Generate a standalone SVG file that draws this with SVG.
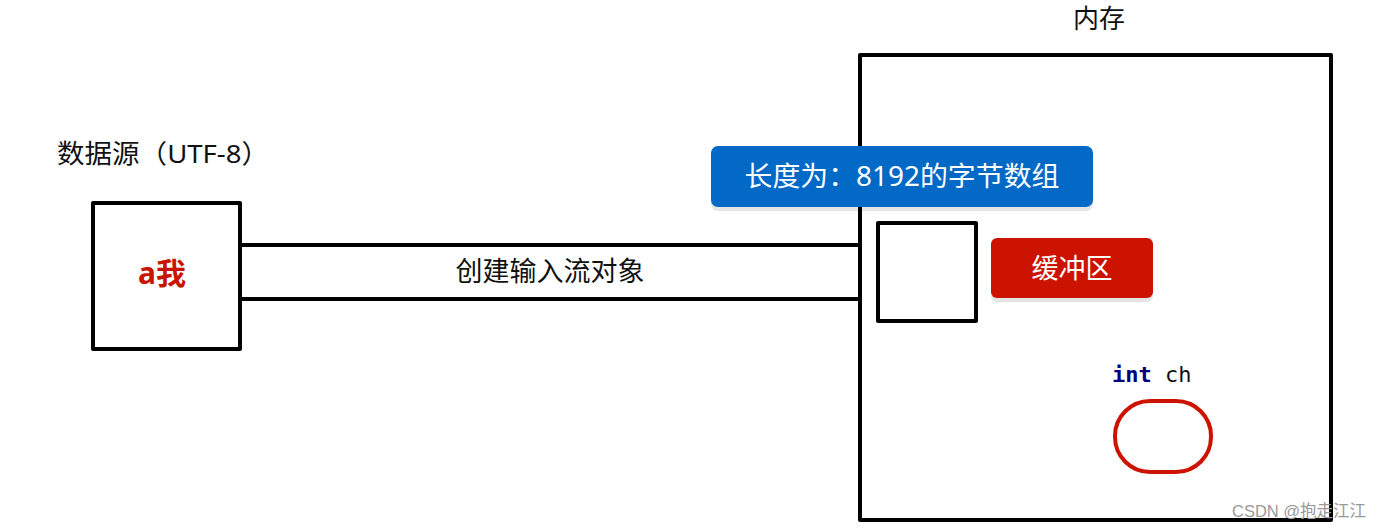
<svg xmlns="http://www.w3.org/2000/svg" width="1383" height="529" viewBox="0 0 1383 529">
<defs>
<style>
.box{fill:#fff;stroke:#000;stroke-width:4;stroke-linejoin:round}
.t{font-family:"Noto Sans","Noto Sans CJK SC",sans-serif;fill:#111}
.wt{font-family:"Noto Sans","Noto Sans CJK SC",sans-serif;fill:#fff}
.ln{stroke:#000;stroke-width:4;fill:none}
.shadow{fill:#000;opacity:0.1}
</style>
</defs>
<rect width="1383" height="529" fill="#fff"/>
<g id="source">
<text class="t" x="57" y="163" font-size="26" textLength="212" lengthAdjust="spacingAndGlyphs">数据源（UTF-8）</text>
<rect class="box" x="93" y="203" width="147" height="146"/>
<text x="162" y="284" font-size="30" font-weight="bold" fill="#C81400" text-anchor="middle" font-family="'Noto Sans','Noto Sans CJK SC',sans-serif">a我</text>
</g>
<g id="memory">
<text class="t" x="1099" y="28" font-size="26" text-anchor="middle">内存</text>
<rect class="box" x="860" y="55" width="471" height="465"/>
</g>
<g id="connectors">
<line class="ln" x1="240" y1="245" x2="860" y2="245"/>
<line class="ln" x1="240" y1="299" x2="860" y2="299"/>
<text class="t" x="550" y="281" font-size="27" text-anchor="middle">创建输入流对象</text>
</g>
<g id="array-label">
<rect class="shadow" x="711" y="150" width="382" height="61" rx="7"/>
<rect x="711" y="146" width="382" height="61" rx="7" fill="#0369C6"/>
<text class="wt" x="902" y="186" font-size="27" text-anchor="middle" textLength="315" lengthAdjust="spacingAndGlyphs">长度为：8192的字节数组</text>
</g>
<g id="buffer">
<rect class="box" x="878" y="223" width="98" height="98"/>
</g>
<g id="buffer-label">
<rect class="shadow" x="991" y="242" width="162" height="60" rx="6"/>
<rect x="991" y="238" width="162" height="60" rx="6" fill="#CC1300"/>
<text class="wt" x="1072" y="278" font-size="27" text-anchor="middle">缓冲区</text>
</g>
<g id="ch">
<text x="1112" y="382" font-size="22" font-family="'DejaVu Sans Mono',monospace"><tspan fill="#000080" font-weight="bold">int</tspan><tspan fill="#111"> ch</tspan></text>
<rect x="1115" y="401" width="96" height="71" rx="35" fill="#fff" stroke="#CC1300" stroke-width="4"/>
</g>
<text x="1232" y="517" font-size="16.5" fill="#999" font-family="'Liberation Sans','Noto Sans CJK SC',sans-serif">CSDN @抱走江江</text>
</svg>
